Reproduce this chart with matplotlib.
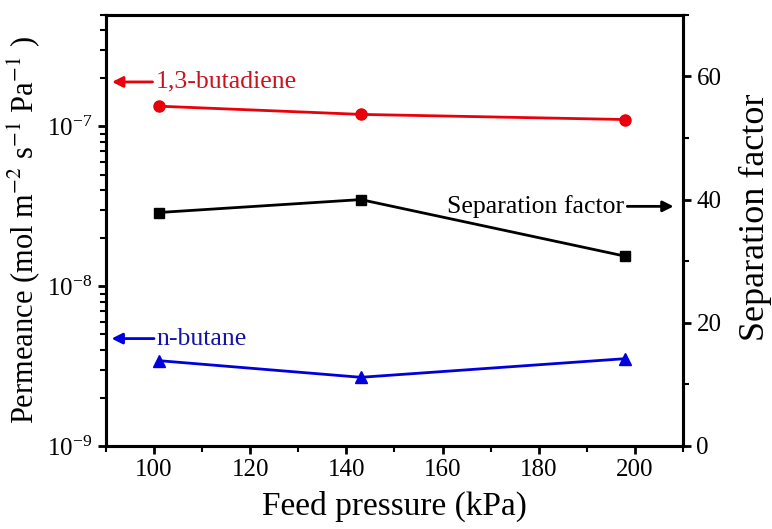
import matplotlib
matplotlib.use("Agg")
import matplotlib.pyplot as plt
from matplotlib.ticker import MultipleLocator, LogLocator

plt.rcParams['font.family'] = ['Liberation Serif', 'DejaVu Serif']
plt.rcParams['mathtext.fontset'] = 'stix'

pressure = [101, 143, 198]
butadiene = [1.34e-7, 1.19e-7, 1.105e-7]
butane = [3.42e-9, 2.69e-9, 3.52e-9]
sep_factor = [37.9, 40.0, 30.8]

fig = plt.figure(figsize=(7.72, 5.29), dpi=100)
ax = fig.add_axes([0.137, 0.157, 0.748, 0.815])
ax2 = ax.twinx()

ax.plot(pressure, butadiene, color='#e8000b', marker='o', markersize=8, lw=2)
ax.plot(pressure, butane, color='#0000dd', marker='^', markersize=8, lw=2)
ax2.plot(pressure, sep_factor, color='black', marker='s', markersize=7, lw=2)

ax.set_yscale('log')
ax.set_xlim(90, 210)
ax.set_ylim(1e-9, 5e-7)
ax2.set_ylim(0, 70)

ax.xaxis.set_major_locator(MultipleLocator(20))
ax.xaxis.set_minor_locator(MultipleLocator(10))
ax.yaxis.set_major_locator(LogLocator(base=10, numticks=10))
ax.yaxis.set_minor_locator(LogLocator(base=10, subs=range(2, 10), numticks=20))
ax2.yaxis.set_major_locator(MultipleLocator(20))
ax2.yaxis.set_minor_locator(MultipleLocator(10))

for a in (ax, ax2):
    for s in a.spines.values():
        s.set_linewidth(2.2)
    a.tick_params(which='major', direction='out', length=6, width=2, labelsize=18)
    a.tick_params(which='minor', direction='out', length=4, width=1.5)
ax.tick_params(axis='y', which='both', right=False)
ax.tick_params(axis='x', which='both', top=False)

ax.set_xlabel('Feed pressure (kPa)', fontsize=24, labelpad=7)
ax.set_ylabel('Permeance (mol m$^{-2}$ s$^{-1}$ Pa$^{-1}$ )', fontsize=22)
ax2.set_ylabel('Separation factor', fontsize=26)
ax2.yaxis.set_label_coords(1.097, 0.53)

arrow = dict(arrowstyle='-|>', lw=2, mutation_scale=16)
ax.annotate('1,3-butadiene', xy=(91.3, 1.9e-7), xytext=(100.3, 1.9e-7),
            ha='left', va='center', fontsize=18.5, color='#c8141e',
            arrowprops=dict(arrow, color='#e8000b', shrinkA=0, shrinkB=0))
ax.annotate('n-butane', xy=(91.2, 4.7e-9), xytext=(100.6, 4.7e-9),
            ha='left', va='center', fontsize=18.5, color='#1414a8',
            arrowprops=dict(arrow, color='#0000dd', shrinkA=0, shrinkB=0))
ax2.annotate('Separation factor', xy=(208, 38.9), xytext=(197.8, 38.9),
             ha='right', va='center', fontsize=18.5, color='black',
             arrowprops=dict(arrow, color='black', shrinkA=0, shrinkB=0))

fig.savefig('out.png', dpi=100)
